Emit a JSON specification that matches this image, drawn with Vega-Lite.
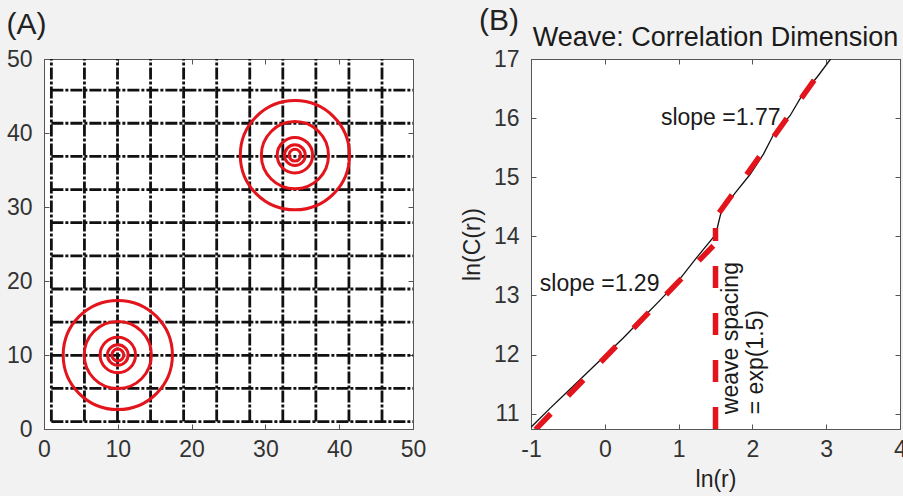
{
  "$schema": "https://vega.github.io/schema/vega-lite/v6.json",
  "background": "#f2f2f2",
  "spacing": 33,
  "config": {
    "font": "Liberation Sans",
    "view": {"fill": "white", "stroke": "#555555", "strokeWidth": 1},
    "axis": {
      "labelFont": "Liberation Sans", "labelFontSize": 23, "labelColor": "#333333",
      "titleFont": "Liberation Sans", "titleFontSize": 23, "titleFontWeight": "normal", "titleColor": "#222222",
      "domainColor": "#555555", "tickColor": "#555555", "tickSize": -5, "grid": false,
      "labelFlush": false, "labelOverlap": false
    },
    "axisX": {"labelPadding": 14, "titlePadding": 7},
    "axisY": {"labelPadding": 17, "titlePadding": 9},
    "title": {"font": "Liberation Sans", "fontWeight": "normal", "color": "#222222"}
  },
  "datasets": {
    "grid": [
      {"g": 1.0}, {"g": 5.48}, {"g": 9.96}, {"g": 14.44}, {"g": 18.92}, {"g": 23.4},
      {"g": 27.88}, {"g": 32.36}, {"g": 36.84}, {"g": 41.32}, {"g": 45.8}
    ],
    "circles": [
      {"cx": 10, "cy": 10, "r": 0.8}, {"cx": 10, "cy": 10, "r": 1.4}, {"cx": 10, "cy": 10, "r": 2.4},
      {"cx": 10, "cy": 10, "r": 4.55}, {"cx": 10, "cy": 10, "r": 7.4},
      {"cx": 34, "cy": 37, "r": 0.8}, {"cx": 34, "cy": 37, "r": 1.4}, {"cx": 34, "cy": 37, "r": 2.4},
      {"cx": 34, "cy": 37, "r": 4.55}, {"cx": 34, "cy": 37, "r": 7.4}
    ],
    "curve": [
      {"x": -1.0, "y": 10.77}, {"x": -0.75, "y": 11.08}, {"x": -0.5, "y": 11.38}, {"x": -0.25, "y": 11.68},
      {"x": 0.0, "y": 11.98}, {"x": 0.25, "y": 12.28}, {"x": 0.5, "y": 12.6}, {"x": 0.75, "y": 12.92},
      {"x": 1.0, "y": 13.25}, {"x": 1.22, "y": 13.6}, {"x": 1.35, "y": 13.8}, {"x": 1.47, "y": 13.98},
      {"x": 1.52, "y": 14.12}, {"x": 1.58, "y": 14.43}, {"x": 1.77, "y": 14.74}, {"x": 1.97, "y": 15.05},
      {"x": 2.15, "y": 15.39}, {"x": 2.29, "y": 15.73}, {"x": 2.51, "y": 16.04}, {"x": 2.67, "y": 16.38},
      {"x": 2.88, "y": 16.7}, {"x": 3.06, "y": 17.0}
    ],
    "fits": [
      {"seg": "a", "x": -0.94, "y": 10.73}, {"seg": "a", "x": 1.47, "y": 13.84},
      {"seg": "b", "x": 1.55, "y": 14.4}, {"seg": "b", "x": 2.9, "y": 16.75}
    ],
    "vline": [{"x": 1.5, "y0": 10.74, "y1": 14.14}],
    "notes": [
      {"x": 0.76, "y": 16.0, "label": "slope =1.77"},
      {"x": -0.88, "y": 13.2, "label": "slope =1.29"}
    ],
    "vnote": [{"x": 1.56, "y": 10.99, "label": "weave spacing\n= exp(1.5)"}]
  },
  "hconcat": [
    {
      "width": 369, "height": 370,
      "title": {"text": "(A)", "anchor": "start", "frame": "bounds", "fontSize": 30, "offset": 8},
      "layer": [
        {
          "data": {"name": "grid"},
          "mark": {"type": "rule", "strokeWidth": 2.8, "strokeDash": [12, 2, 3, 2], "color": "#111111"},
          "encoding": {
            "x": {"field": "g", "type": "quantitative", "scale": {"domain": [0, 50], "nice": false},
                  "axis": {"orient": "bottom", "values": [0, 10, 20, 30, 40, 50], "title": null}},
            "y": {"datum": 1, "type": "quantitative", "scale": {"domain": [0, 50], "nice": false},
                  "axis": {"orient": "left", "values": [0, 10, 20, 30, 40, 50], "title": null}},
            "y2": {"datum": 50}
          }
        },
        {
          "data": {"name": "grid"},
          "mark": {"type": "rule", "strokeWidth": 2.8, "strokeDash": [12, 2, 3, 2], "color": "#111111"},
          "encoding": {
            "y": {"field": "g", "type": "quantitative", "scale": {"domain": [0, 50], "nice": false}, "axis": null},
            "x": {"datum": 1, "type": "quantitative", "scale": {"domain": [0, 50], "nice": false}, "axis": null},
            "x2": {"datum": 50}
          }
        },
        {
          "data": {"name": "circles"},
          "mark": {"type": "point", "shape": "circle", "filled": false, "color": "#e3141c", "strokeWidth": 3, "opacity": 1},
          "encoding": {
            "x": {"field": "cx", "type": "quantitative", "scale": {"domain": [0, 50], "nice": false}, "axis": null},
            "y": {"field": "cy", "type": "quantitative", "scale": {"domain": [0, 50], "nice": false}, "axis": null},
            "size": {"field": "r", "type": "quantitative", "scale": {"type": "pow", "exponent": 2, "domain": [0, 10], "range": [0, 21786]}, "legend": null}
          }
        },
        {
          "data": {"name": "grid"},
          "mark": {"type": "point", "opacity": 0},
          "encoding": {
            "x": {"datum": 0, "type": "quantitative", "scale": {"domain": [0, 50], "nice": false},
                  "axis": {"orient": "top", "values": [0, 10, 20, 30, 40, 50], "labels": false, "domain": false, "title": null}},
            "y": {"datum": 0, "type": "quantitative", "scale": {"domain": [0, 50], "nice": false},
                  "axis": {"orient": "right", "values": [0, 10, 20, 30, 40, 50], "labels": false, "domain": false, "title": null}}
          }
        }
      ],
      "resolve": {"axis": {"x": "independent", "y": "independent"}}
    },
    {
      "title": {"text": "(B)", "anchor": "start", "frame": "bounds", "fontSize": 30, "offset": -12, "dx": 18},
      "vconcat": [
        {
          "width": 369, "height": 370,
          "title": {"text": "Weave: Correlation Dimension", "anchor": "middle", "fontSize": 27, "offset": -4, "color": "#1a1a1a"},
          "layer": [
            {
              "data": {"name": "curve"},
              "mark": {"type": "line", "color": "#111111", "strokeWidth": 1.3, "clip": true},
              "encoding": {
                "x": {"field": "x", "type": "quantitative", "scale": {"domain": [-1, 4], "nice": false, "zero": false},
                      "axis": {"orient": "bottom", "values": [-1, 0, 1, 2, 3, 4], "labelExpr": "'' + datum.value", "title": "ln(r)"}},
                "y": {"field": "y", "type": "quantitative", "scale": {"domain": [10.74, 17], "nice": false, "zero": false},
                      "axis": {"orient": "left", "values": [11, 12, 13, 14, 15, 16, 17], "title": "ln(C(r))"}}
              }
            },
            {
              "data": {"name": "fits"},
              "mark": {"type": "line", "color": "#e3141c", "strokeWidth": 5.5, "strokeDash": [22, 25], "clip": true},
              "encoding": {
                "x": {"field": "x", "type": "quantitative", "scale": {"domain": [-1, 4], "nice": false, "zero": false}, "axis": null},
                "y": {"field": "y", "type": "quantitative", "scale": {"domain": [10.74, 17], "nice": false, "zero": false}, "axis": null},
                "detail": {"field": "seg", "type": "nominal"}
              }
            },
            {
              "data": {"name": "vline"},
              "mark": {"type": "rule", "color": "#e3141c", "strokeWidth": 5.5, "strokeDash": [22, 25], "clip": true},
              "encoding": {
                "x": {"field": "x", "type": "quantitative", "scale": {"domain": [-1, 4], "nice": false, "zero": false}, "axis": null},
                "y": {"field": "y0", "type": "quantitative", "scale": {"domain": [10.74, 17], "nice": false, "zero": false}, "axis": null},
                "y2": {"field": "y1"}
              }
            },
            {
              "data": {"name": "notes"},
              "mark": {"type": "text", "align": "left", "baseline": "middle", "fontSize": 23, "font": "Liberation Sans", "color": "#1a1a1a"},
              "encoding": {
                "x": {"field": "x", "type": "quantitative", "scale": {"domain": [-1, 4], "nice": false, "zero": false}, "axis": null},
                "y": {"field": "y", "type": "quantitative", "scale": {"domain": [10.74, 17], "nice": false, "zero": false}, "axis": null},
                "text": {"field": "label"}
              }
            },
            {
              "data": {"name": "vnote"},
              "mark": {"type": "text", "align": "left", "baseline": "top", "angle": 270, "fontSize": 23, "lineHeight": 25, "lineBreak": "\n", "font": "Liberation Sans", "color": "#1a1a1a"},
              "encoding": {
                "x": {"field": "x", "type": "quantitative", "scale": {"domain": [-1, 4], "nice": false, "zero": false}, "axis": null},
                "y": {"field": "y", "type": "quantitative", "scale": {"domain": [10.74, 17], "nice": false, "zero": false}, "axis": null},
                "text": {"field": "label"}
              }
            },
            {
              "data": {"name": "vline"},
              "mark": {"type": "point", "opacity": 0},
              "encoding": {
                "x": {"datum": 0, "type": "quantitative", "scale": {"domain": [-1, 4], "nice": false, "zero": false},
                      "axis": {"orient": "top", "values": [-1, 0, 1, 2, 3, 4], "labels": false, "domain": false, "title": null}},
                "y": {"datum": 12, "type": "quantitative", "scale": {"domain": [10.74, 17], "nice": false, "zero": false},
                      "axis": {"orient": "right", "values": [11, 12, 13, 14, 15, 16, 17], "labels": false, "domain": false, "title": null}}
              }
            }
          ],
          "resolve": {"axis": {"x": "independent", "y": "independent"}}
        }
      ]
    }
  ]
}
